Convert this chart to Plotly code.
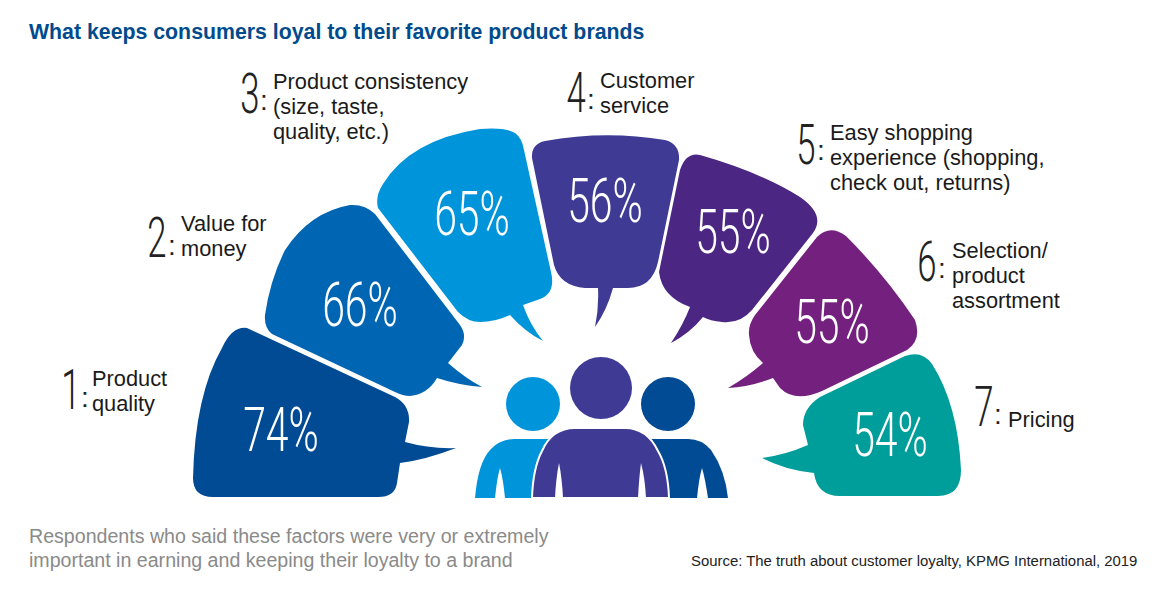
import plotly.graph_objects as go

# ---- data ----
ranks = [1, 2, 3, 4, 5, 6, 7]
categories = [
    ["Product", "quality"],
    ["Value for", "money"],
    ["Product consistency", "(size, taste,", "quality, etc.)"],
    ["Customer", "service"],
    ["Easy shopping", "experience (shopping,", "check out, returns)"],
    ["Selection/", "product", "assortment"],
    ["Pricing"],
]
values = [74, 66, 65, 56, 55, 55, 54]
title = "What keeps consumers loyal to their favorite product brands"
note_lines = ["Respondents who said these factors were very or extremely",
              "important in earning and keeping their loyalty to a brand"]
source = "Source: The truth about customer loyalty, KPMG International, 2019"

# ---- styling / placement (pixel space) ----
colors = ["#004B93", "#0066B3", "#0095DA", "#3F3A94", "#4B2683", "#74207E", "#009E9A"]
value_x = [281, 360, 472, 605, 733, 832, 890]
value_y = [436, 311, 220, 207, 238, 328, 441]
rank_x = [71, 157, 250, 576, 806, 927, 984]
rank_y = [395, 243, 99, 98, 150, 267, 412]
colon_x = [85, 172, 264, 591, 821, 942, 998]
colon_y = [400, 248, 103, 102, 153, 271, 417]
label_x = [92, 181, 273, 600, 830, 952, 1008]
label_y0 = [378, 223, 81, 80, 132, 250, 419]
line_gap = 25

bubbles = [
    "M 247,328 L 395,397 Q 410,405 409,422 L 405,442 Q 430,449 456,448 Q 425,460 400,463 L 397,483 Q 395,497 378,497 L 213,497 Q 193,497 193,478 Q 195,395 222,348 Q 232,326 247,328 Z",
    "M 350,205 Q 365,204 375,214 L 460,325 Q 467,335 462,345 L 448,363 Q 465,378 482,387 Q 458,385 437,378 Q 428,394 410,396 Q 403,396 395,392 L 272,334 Q 264,328 265,315 Q 270,280 285,250 Q 310,212 350,205 Z",
    "M 378,208 Q 375,196 383,184 Q 410,140 480,129 Q 505,127 515,133 Q 522,138 524,150 L 551,272 Q 556,293 540,299 L 523,305 Q 530,325 543,341 Q 525,332 510,315 Q 495,322 480,322 Q 468,322 458,312 Z",
    "M 532,158 Q 531,144 545,141 Q 605,130 665,140 Q 680,144 679,160 L 658,262 Q 652,288 628,288 L 613,288 Q 607,310 595,327 Q 599,308 598,288 L 585,288 Q 560,286 554,265 Z",
    "M 680,170 Q 686,152 700,155 Q 760,172 800,197 Q 826,215 813,233 L 752,310 Q 740,324 722,322 Q 710,321 703,317 Q 690,333 671,343 Q 683,325 690,307 Q 662,297 659,272 Z",
    "M 749,335 Q 748,325 755,315 L 817,237 Q 830,224 846,236 Q 885,275 915,320 Q 922,340 907,350 L 822,391 Q 795,403 780,388 L 773,378 Q 750,387 728,388 Q 747,377 763,363 Q 750,352 749,335 Z",
    "M 803,425 Q 803,408 820,397 L 905,356 Q 922,350 932,364 Q 958,405 961,470 Q 961,496 938,496 L 840,496 Q 817,496 814,473 Q 785,470 762,458 Q 785,455 808,445 Z",
]

shapes = [
    dict(type="path", path=p, fillcolor=c, line=dict(width=0), xref="x", yref="y", layer="below")
    for p, c in zip(bubbles, colors)
]

def person(path, color, line=0):
    return dict(type="path", path=path, fillcolor=color, line=dict(width=line, color="white"),
                xref="x", yref="y", layer="below")

def head(cx, cy, r, color):
    return dict(type="circle", x0=cx - r, x1=cx + r, y0=cy - r, y1=cy + r, fillcolor=color,
                line=dict(width=0), xref="x", yref="y", layer="below")

shapes += [
    head(533, 404, 27, "#0095DA"),
    head(668, 404, 27, "#004B93"),
    head(601, 388, 31, "#3F3A94"),
    person("M 475,498 Q 478,462 491,449 Q 500,439 515,439 L 570,439 L 570,498 Z", "#0095DA"),
    person("M 495,498 Q 497,478 500,468 Q 503,478 505,498 Z", "white"),
    person("M 640,439 L 688,439 Q 702,439 711,450 Q 725,470 728,498 L 640,498 Z", "#004B93"),
    person("M 697,498 Q 699,478 702,468 Q 705,478 708,498 Z", "white"),
    person("M 532,498 Q 533,468 542,451 Q 552,428 575,428 L 625,428 Q 647,428 658,451 Q 668,468 669,498 Z", "#3F3A94", 2),
    person("M 555,498 Q 556,478 559,463 Q 562,478 563,498 Z", "white"),
    person("M 638,498 Q 639,478 641,463 Q 645,478 646,498 Z", "white"),
]

fig = go.Figure()
fig.add_trace(go.Scatter(
    x=value_x, y=value_y, mode="text", name="values",
    text=[f"{v}%" for v in values],
    textposition="middle center",
    textfont=dict(family="Roboto", size=62, color="white", weight=300),
    hoverinfo="skip", showlegend=False,
))
fig.add_trace(go.Scatter(
    x=rank_x, y=rank_y, mode="text", name="ranks",
    text=[str(r) for r in ranks],
    textposition="middle center",
    textfont=dict(family="Roboto", size=56, color="#222222", weight=300),
    hoverinfo="skip", showlegend=False,
))
fig.add_trace(go.Scatter(
    x=colon_x, y=colon_y, mode="text", name="colons",
    text=[":"] * len(ranks),
    textposition="middle center",
    textfont=dict(family="Liberation Sans", size=28, color="#222222"),
    hoverinfo="skip", showlegend=False,
))

annotations = []
for x, y0, lines in zip(label_x, label_y0, categories):
    for i, line in enumerate(lines):
        annotations.append(dict(
            x=x, y=y0 + i * line_gap, text=line, showarrow=False, xanchor="left", yanchor="middle",
            xshift=-2, font=dict(family="Liberation Sans", size=21.8, color="#1a1a1a")))
annotations.append(dict(x=29, y=32, text=f"<b>{title}</b>", showarrow=False, xanchor="left",
                        yanchor="middle", xshift=-2,
                        font=dict(family="Liberation Sans", size=21.3, color="#004B8D")))
for i, line in enumerate(note_lines):
    annotations.append(dict(x=29, y=536 + i * 24, text=line, showarrow=False, xanchor="left",
                            yanchor="middle", xshift=-2,
                            font=dict(family="Liberation Sans", size=19.6, color="#8a8a8a")))
annotations.append(dict(x=1139, y=561, text=source, showarrow=False, xanchor="right", yanchor="middle",
                        font=dict(family="Liberation Sans", size=14.9, color="#222222")))

fig.update_layout(
    width=1163, height=594, margin=dict(l=0, r=0, t=0, b=0),
    paper_bgcolor="white", plot_bgcolor="white",
    xaxis=dict(range=[0, 1163], visible=False, fixedrange=True),
    yaxis=dict(range=[594, 0], visible=False, fixedrange=True),
    shapes=shapes, annotations=annotations, showlegend=False,
)

# Flush page, and condense the big numerals as the reference's narrow typeface does.
post = """
document.documentElement.style.overflow='hidden';
document.body.style.margin='0';
function squeeze(){
  var gd=document.getElementById('{plot_id}');
  var groups=gd.querySelectorAll('.scatterlayer .trace');
  var sx=[0.66,0.62];
  [0,1].forEach(function(i){
    if(!groups[i])return;
    groups[i].querySelectorAll('.textpoint text').forEach(function(t){
      t.style.transformBox='fill-box';
      t.style.transformOrigin='center';
      t.style.transform='scaleX('+sx[i]+')';
    });
  });
}
squeeze();setTimeout(squeeze,50);setTimeout(squeeze,300);
"""
fig.write_html("out.html", config=dict(displayModeBar=False), post_script=post)
